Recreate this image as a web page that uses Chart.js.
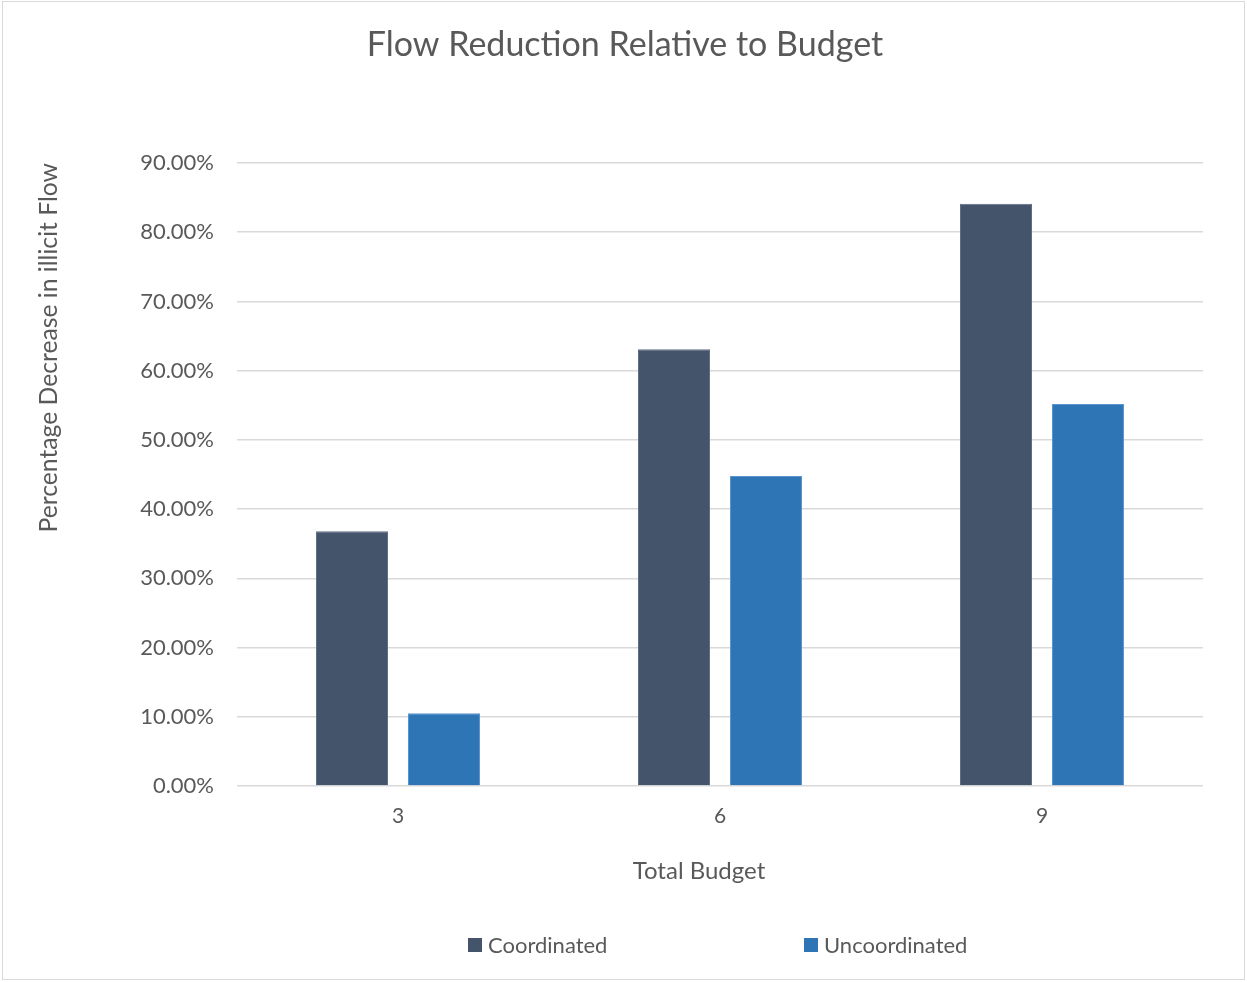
<!DOCTYPE html>
<html>
<head>
<meta charset="utf-8">
<script src="https://cdn.jsdelivr.net/npm/chart.js@4.4.0/dist/chart.umd.min.js"></script>
<style>
  html, body { margin: 0; padding: 0; background: #fff; }
  #wrap { width: 1247px; height: 982px; position: relative; }
</style>
</head>
<body>
<div id="wrap"><canvas id="chart" width="1247" height="982"></canvas></div>
<script>
// --- data ---
const categories = ["3", "6", "9"];
const coordinated = [36.8, 63.1, 84.1];
const uncoordinated = [10.5, 44.8, 55.2];
const seriesNames = ["Coordinated", "Uncoordinated"];
const yMax = 90;
const yStep = 10;

const TEXT = "#595959";
const FONT = "Lato, 'Open Sans', sans-serif";

// frame, title, x title and the widely spaced legend
const extrasPlugin = {
  id: "extras",
  beforeDraw(chart) {
    const { ctx } = chart;
    ctx.save();
    ctx.fillStyle = "#fff";
    ctx.fillRect(0, 0, chart.width, chart.height);
    ctx.strokeStyle = "#d9d9d9";
    ctx.lineWidth = 1;
    ctx.strokeRect(2.5, 1.5, chart.width - 5, chart.height - 4);
    ctx.restore();
  },
  afterDraw(chart, args, opts) {
    const { ctx } = chart;
    ctx.save();
    ctx.fillStyle = TEXT;
    ctx.textBaseline = "middle";
    ctx.textAlign = "center";
    ctx.font = `34px ${FONT}`;
    ctx.fillText(opts.title, 625, 45);

    ctx.font = `24px ${FONT}`;
    ctx.fillText(opts.xTitle, 699, 871);

    ctx.font = `22px ${FONT}`;
    ctx.textAlign = "left";
    const xs = [468, 804];
    chart.data.datasets.forEach((ds, i) => {
      ctx.fillStyle = ds.backgroundColor;
      ctx.fillRect(xs[i], 938, 14, 14);
      ctx.fillStyle = TEXT;
      ctx.fillText(ds.label, xs[i] + 20, 946);
    });
    ctx.restore();
  }
};

const ctx = document.getElementById("chart").getContext("2d");
new Chart(ctx, {
  type: "bar",
  data: {
    labels: categories,
    datasets: [
      { label: seriesNames[0], data: coordinated, backgroundColor: "#44546A",
        borderColor: "#5f6e82", borderWidth: 1 },
      { label: seriesNames[1], data: uncoordinated, backgroundColor: "#2E75B6",
        borderColor: "#5b95cc", borderWidth: 1 }
    ]
  },
  options: {
    responsive: false,
    animation: false,
    datasets: { bar: { categoryPercentage: 0.5714, barPercentage: 0.7826 } },
    layout: { padding: { left: 0, right: 44, top: 163, bottom: 0 } },
    plugins: {
      legend: { display: false },
      tooltip: { enabled: false },
      title: { display: false },
      extras: { title: "Flow Reduction Relative to Budget", xTitle: "Total Budget" }
    },
    scales: {
      x: {
        grid: { display: false, drawTicks: false },
        border: { display: false },
        ticks: { color: TEXT, font: { family: FONT, size: 21 }, padding: 18 },
        afterFit(scale) { scale.height = 196; }
      },
      y: {
        min: 0,
        max: yMax,
        border: { display: false },
        grid: { color: "#d9d9d9", lineWidth: 1.5, drawTicks: false },
        ticks: {
          stepSize: yStep,
          color: TEXT,
          font: { family: FONT, size: 22 },
          padding: 23,
          callback: (v) => `${v.toFixed(2)}%`
        },
        title: {
          display: true,
          text: "Percentage Decrease in illicit Flow",
          align: "end",
          color: TEXT,
          font: { family: FONT, size: 24.7, lineHeight: 1.2 },
          padding: { top: 34, bottom: 0 }
        },
        afterFit(scale) { scale.width = 237; }
      }
    }
  },
  plugins: [extrasPlugin]
});
</script>
</body>
</html>
